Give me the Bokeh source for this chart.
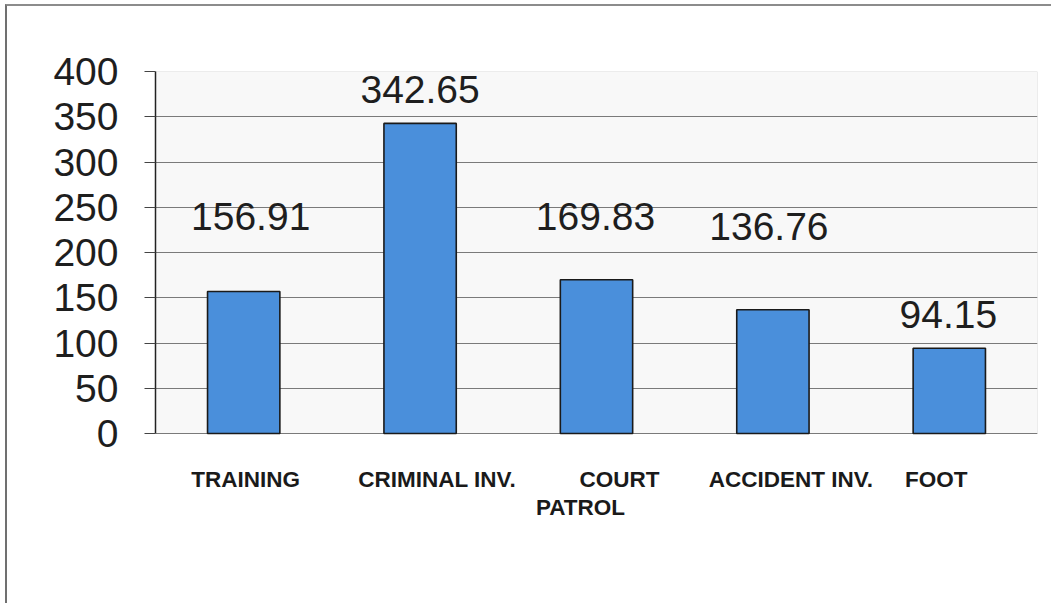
from bokeh.plotting import figure
from bokeh.models import (ColumnDataSource, FactorRange, Range1d, FixedTicker,
                          LabelSet, BoxAnnotation)
from bokeh.core.properties import value
from bokeh.embed import file_html
from bokeh.resources import INLINE

# Hours by assignment
categories = ["TRAINING", "CRIMINAL INV.", "COURT PATROL", "ACCIDENT INV.", "FOOT"]
hours = [156.91, 342.65, 169.83, 136.76, 94.15]
y_ticks = [0, 50, 100, 150, 200, 250, 300, 350, 400]

# How far above each bar its value label sits (data units) and its sideways nudge (px)
value_lift = [67.4, 22.0, 54.5, 76.5, 22.0]
value_nudge = [7, 0, -1, -4, -1]

# Category captions, drawn line by line under the axis: (category, text, dx px, dy px)
caption_lines = [
    ("TRAINING", "TRAINING", 2, -46),
    ("CRIMINAL INV.", "CRIMINAL INV.", 17, -46),
    ("COURT PATROL", "COURT", 23, -46),
    ("COURT PATROL", "PATROL", -16, -74),
    ("ACCIDENT INV.", "ACCIDENT INV.", 18, -46),
    ("FOOT", "FOOT", -13, -46),
]

FONT = "Liberation Sans"
PX_PER_UNIT = 362 / 400          # vertical scale of the plot area
BOTTOM_SPACE = 172               # room under the zero line for the captions

p = figure(width=1046, height=599, output_backend="svg", toolbar_location=None,
           x_range=FactorRange(factors=categories, range_padding=0),
           y_range=Range1d(-BOTTOM_SPACE / PX_PER_UNIT, 400),
           min_border_left=148, min_border_right=16,
           min_border_top=65, min_border_bottom=0)

p.styles = {"margin-left": "5px", "margin-top": "4px",
            "border-left": "2px solid #707070", "border-top": "2px solid #8c8c8c"}

p.background_fill_color = "white"
p.border_fill_color = "white"
p.outline_line_color = None

# Plot area: light panel with a thin border, 0..400
p.add_layout(BoxAnnotation(bottom=0, top=400, fill_color="#f8f8f8", fill_alpha=1,
                           line_color="#8a8a8a", line_width=1, level="image"))

bars = ColumnDataSource(dict(
    cat=categories,
    hours=hours,
    label_y=[h + l for h, l in zip(hours, value_lift)],
    label_text=[f"{h:.2f}" for h in hours],
    nudge=value_nudge,
))

p.vbar(x="cat", top="hours", width=0.41, source=bars,
       fill_color="#4a8fdb", line_color="#1a1a1a", line_width=1.6)

p.add_layout(LabelSet(x="cat", y="label_y", text="label_text", x_offset="nudge",
                      source=bars, text_align="center", text_baseline="alphabetic",
                      text_font=value(FONT), text_font_size="39px",
                      text_color="#1e1e1e"))

captions = ColumnDataSource(dict(
    cat=[c[0] for c in caption_lines],
    text=[c[1] for c in caption_lines],
    dx=[c[2] for c in caption_lines],
    dy=[-c[3] for c in caption_lines],
    y=[0] * len(caption_lines),
))
p.text(x="cat", y="y", text="text", x_offset="dx", y_offset="dy", source=captions,
       text_align="center", text_baseline="alphabetic",
       text_font=value(FONT), text_font_size="22.5px", text_font_style="bold",
       text_color="#1a1a1a")

# Axes
p.xaxis.visible = False
p.xgrid.visible = False

p.yaxis.bounds = (0, 400)
p.yaxis.ticker = FixedTicker(ticks=y_ticks)
p.yaxis.axis_line_color = "#222222"
p.yaxis.axis_line_width = 1.5
p.yaxis.major_tick_line_color = "#444444"
p.yaxis.major_tick_out = 11
p.yaxis.major_tick_in = 0
p.yaxis.minor_tick_line_color = None
p.yaxis.major_label_standoff = 26
p.yaxis.major_label_text_font = FONT
p.yaxis.major_label_text_font_size = "39px"
p.yaxis.major_label_text_color = "#1e1e1e"

p.ygrid.ticker = FixedTicker(ticks=y_ticks)
p.ygrid.grid_line_color = "#7a7a7a"
p.ygrid.grid_line_width = 1

open("out.html", "w").write(file_html(p, INLINE))
